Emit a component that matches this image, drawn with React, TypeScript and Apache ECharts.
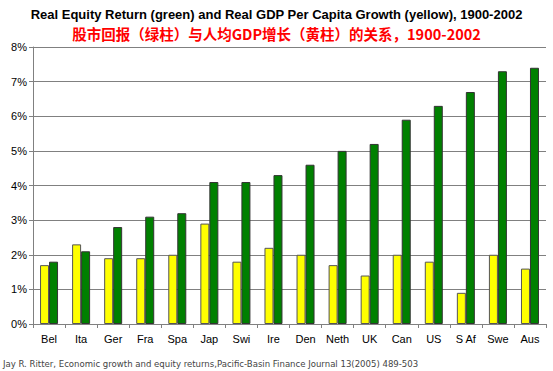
import React, { useEffect, useRef } from "react";
import * as echarts from "echarts";

const categories = ["Bel", "Ita", "Ger", "Fra", "Spa", "Jap", "Swi", "Ire", "Den", "Neth", "UK", "Can", "US", "S Af", "Swe", "Aus"];
const gdpGrowth = [1.7, 2.3, 1.9, 1.9, 2.0, 2.9, 1.8, 2.2, 2.0, 1.7, 1.4, 2.0, 1.8, 0.9, 2.0, 1.6];
const equityReturn = [1.8, 2.1, 2.8, 3.1, 3.2, 4.1, 4.1, 4.3, 4.6, 5.0, 5.2, 5.9, 6.3, 6.7, 7.3, 7.4];

const titleText = "Real Equity Return (green) and Real GDP Per Capita Growth (yellow), 1900-2002";
const subtitleText = "股市回报（绿柱）与人均GDP增长（黄柱）的关系，1900-2002";
const sourceText = "Jay R. Ritter, Economic growth and equity returns,Pacific-Basin Finance Journal 13(2005) 489-503";

export default function App() {
  const ref = useRef<HTMLDivElement>(null);
  useEffect(() => {
    if (!ref.current) return;
    const chart = echarts.init(ref.current, undefined, { renderer: "svg" });
    chart.setOption({
      animation: false,
      backgroundColor: "#ffffff",
      textStyle: { fontFamily: "Liberation Sans" },
      title: [
        {
          text: titleText,
          left: "center",
          top: 3,
          textStyle: { fontSize: 13, fontWeight: "bold", color: "#000", fontFamily: "Liberation Sans" },
        },
        {
          text: subtitleText,
          left: "center",
          top: 21,
          textStyle: { fontSize: 14.5, fontWeight: "bold", color: "#ff0000", fontFamily: "Noto Sans CJK SC" },
        },
      ],
      graphic: [
        {
          type: "text",
          left: 3,
          top: 358,
          style: { text: sourceText, fontSize: 9.5, fill: "#444", fontFamily: "DejaVu Sans Condensed, Liberation Sans" },
        },
      ],
      grid: { left: 33, right: 7, top: 47, bottom: 47, containLabel: false },
      xAxis: {
        type: "category",
        data: categories,
        axisLine: { show: true, lineStyle: { color: "#808080" } },
        axisTick: { show: true, alignWithLabel: false, length: 4, lineStyle: { color: "#808080" } },
        axisLabel: { color: "#000", fontSize: 11, margin: 9 },
      },
      yAxis: {
        type: "value",
        min: 0,
        max: 8,
        interval: 1,
        axisLine: { show: true, lineStyle: { color: "#808080" } },
        axisTick: { show: true, length: 4, lineStyle: { color: "#808080" } },
        axisLabel: { color: "#000", fontSize: 11, margin: 6, formatter: (v: number) => v + "%" },
        splitLine: { show: true, lineStyle: { color: "#808080", width: 1 } },
      },
      series: [
        {
          type: "bar",
          name: "GDP",
          data: gdpGrowth,
          barWidth: 9,
          barGap: "0%",
          itemStyle: { color: "#ffff00", borderColor: "#555", borderWidth: 1 },
        },
        {
          type: "bar",
          name: "Equity",
          data: equityReturn,
          barWidth: 9,
          barGap: "0%",
          itemStyle: { color: "#008000", borderColor: "#333", borderWidth: 1 },
        },
      ],
    });
    return () => chart.dispose();
  }, []);
  return <div ref={ref} style={{ position: "fixed", left: 0, top: 0, width: 553, height: 371 }} />;
}
